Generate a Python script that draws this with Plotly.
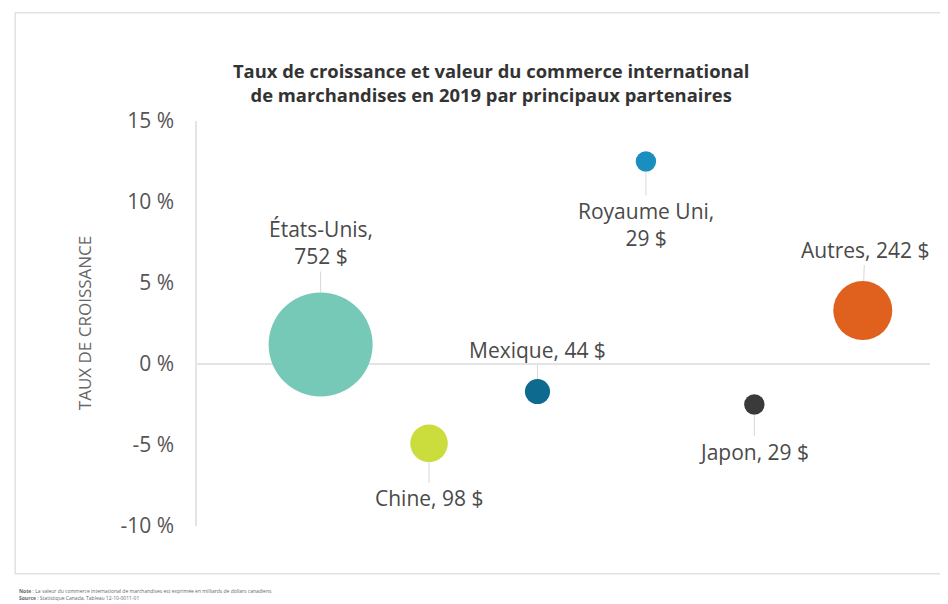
import plotly.graph_objects as go

# Data
partners = ["États-Unis", "Chine", "Mexique", "Royaume Uni", "Japon", "Autres"]
growth = [1.2, -4.9, -1.7, 12.5, -2.5, 3.3]          # taux de croissance (%)
value = [752, 98, 44, 29, 29, 242]                   # milliards de $
colors = ["#77C9B7", "#CBDD3C", "#0F6A8F", "#1B8EC0", "#3A3A3A", "#E0601E"]
label_text = ["États-Unis,<br>752 $", "Chine, 98 $", "Mexique, 44 $",
              "Royaume Uni,<br>29 $", "Japon, 29 $", "Autres, 242 $"]
label_dy = [-102, 55, -42, 63, 47, -61]
label_dx = [0, 0, 0, 0, 0, 2]
y_ticks = [-10, -5, 0, 5, 10, 15]

FONT = "Open Sans, Lato, sans-serif"
SIZEREF = 2 * max(value) / 104 ** 2   # largest bubble ~104 px wide

fig = go.Figure()
fig.add_trace(go.Scatter(
    x=list(range(len(partners))),
    y=growth,
    mode="markers",
    marker=dict(size=value, sizemode="area", sizeref=SIZEREF,
                color=colors, opacity=1, line=dict(width=0)),
    hoverinfo="skip",
    showlegend=False,
))

# labels with short leader lines
for i, (txt, dy, dx) in enumerate(zip(label_text, label_dy, label_dx)):
    r = (2 * value[i] / SIZEREF) ** 0.5 / 2
    fig.add_annotation(
        x=i, y=growth[i], text=txt, showarrow=True,
        ax=dx, ay=dy, arrowhead=0, arrowwidth=1, arrowcolor="#d8d8d8",
        standoff=r, font=dict(family=FONT, size=21, color="#4a4a4a"),
    )

# y axis title
fig.add_annotation(
    xref="paper", yref="paper", x=-0.154, y=0.501, xanchor="center", yanchor="middle",
    text="TAUX DE CROISSANCE", textangle=-90, showarrow=False,
    font=dict(family=FONT, size=17, color="#666"),
)

# note / source
fig.add_annotation(
    xref="paper", yref="paper", x=-0.245, y=-0.148, xanchor="left", yanchor="top",
    align="left", showarrow=False,
    text="<b>Note</b> : La valeur du commerce international de marchandises est exprimée en milliards de dollars canadiens"
         "<br><b>Source</b> : Statistique Canada, Tableau 12-10-0011-01",
    font=dict(family=FONT, size=5, color="#666"),
)

# frame around the chart
fig.add_shape(type="rect", xref="paper", yref="paper",
              x0=-0.248, x1=1.05, y0=-0.118, y1=1.267,
              line=dict(color="#e2e2e2", width=1.5), layer="below")

fig.update_layout(
    width=940, height=596,
    paper_bgcolor="white", plot_bgcolor="white",
    margin=dict(l=189, r=18, t=113, b=78),
    title=dict(
        text="<b>Taux de croissance et valeur du commerce international<br>de marchandises en 2019 par principaux partenaires</b>",
        x=0.514, xanchor="center", y=0.8826, yanchor="middle", xref="container",
        font=dict(family=FONT, size=18.4, color="#333"),
    ),
    xaxis=dict(range=[-1.14, 5.62], showgrid=False, zeroline=False,
               showticklabels=False, showline=False),
    yaxis=dict(range=[-10, 15], tickvals=y_ticks,
               ticktext=[f"{v} %" for v in y_ticks],
               showgrid=False, zeroline=True, zerolinecolor="#e4e4e4", zerolinewidth=2,
               showline=True, linecolor="#e4e4e4", linewidth=1.5,
               ticks="", ticklabelstandoff=17,
               tickfont=dict(family=FONT, size=21, color="#555")),
    font=dict(family=FONT),
)

fig.write_html("out.html")
